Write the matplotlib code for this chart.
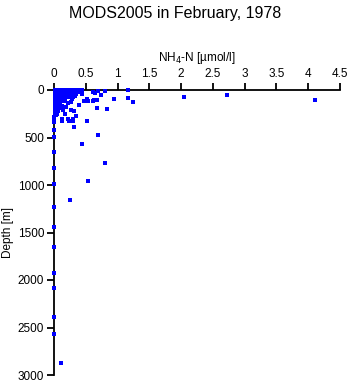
import matplotlib
matplotlib.use("Agg")
import matplotlib.pyplot as plt

# NH4-N concentration [umol/l] and sampling depth [m]
nh4 = [
    0.02, 0.05, 0.08, 0.11, 0.14, 0.17, 0.20, 0.23, 0.26, 0.29, 0.32, 0.35, 0.38, 0.41, 0.44,
    0.03, 0.06, 0.09, 0.12, 0.15, 0.18, 0.21, 0.24, 0.27, 0.30, 0.36, 0.40,
    0.01, 0.04, 0.10, 0.13, 0.16, 0.22, 0.25, 0.31, 0.34, 0.42,
    0.02, 0.05, 0.11, 0.14, 0.21, 0.27, 0.35,
    0.01, 0.07, 0.10, 0.16, 0.20, 0.23, 0.33,
    0.02, 0.05, 0.12, 0.15, 0.22, 0.30,
    0.01, 0.04, 0.07, 0.14, 0.18, 0.29,
    0.02, 0.05, 0.08, 0.16, 0.27,
    0.01, 0.04, 0.10, 0.22,
    0.02, 0.05, 0.09, 0.13, 0.19, 0.39,
    0.01, 0.04, 0.12,
    0.02, 0.06, 0.14, 0.26, 0.31,
    0.01, 0.05, 0.17, 0.03, 0.00, 0.35,
    0.12, 0.22, 0.30, 0.13, 0.23, 0.30, 0.52, 0.00, 0.00, 0.31,
    0.00, 0.69, 0.00, 0.44, 0.00, 0.81, 0.00, 0.53, 0.00, 0.25,
    0.00, 0.00, 0.00, 0.00, 0.00, 0.00, 0.00, 0.11,
    0.61, 0.69, 0.64, 0.81, 0.74, 0.67, 0.63, 0.53, 0.47, 0.52,
    0.94, 1.16, 1.16, 1.24, 0.68, 0.83, 2.04, 2.72, 4.10, 0.44, 0.61,
]
depth = [
    0, 2, 0, 5, 0, 3, 0, 2, 0, 4, 0, 2, 0, 5, 1,
    12, 15, 10, 14, 11, 16, 10, 13, 15, 12, 14, 18,
    25, 28, 26, 30, 24, 25, 23, 28, 32, 25,
    38, 42, 45, 40, 38, 50, 47,
    55, 62, 56, 65, 58, 63, 60,
    72, 76, 80, 74, 78, 76,
    90, 95, 100, 98, 94, 96,
    110, 118, 112, 115, 122,
    135, 142, 138, 140,
    160, 168, 175, 165, 178, 161,
    185, 192, 190,
    215, 225, 212, 210, 221,
    240, 250, 256, 265, 280, 273,
    308, 308, 308, 326, 322, 329, 326, 326, 340, 385,
    420, 473, 497, 571, 655, 767, 823, 960, 991, 1156,
    1233, 1447, 1653, 1927, 2084, 2389, 2568, 2873,
    21, 7, 35, 14, 56, 109, 109, 116, 116, 91,
    98, 3, 81, 126, 193, 203, 70, 56, 105, 45, 116,
]

x_ticks = [0, 0.5, 1, 1.5, 2, 2.5, 3, 3.5, 4, 4.5]
x_ticklabels = ["0", "0.5", "1", "1.5", "2", "2.5", "3", "3.5", "4", "4.5"]
y_ticks = [0, 500, 1000, 1500, 2000, 2500, 3000]

plt.rcParams["font.family"] = ["Liberation Sans", "DejaVu Sans"]

fig = plt.figure(figsize=(3.5, 3.84), dpi=100)
ax = fig.add_axes([54 / 350, 1 - 375 / 384, 286 / 350, 285 / 384])

ax.plot(nh4, depth, linestyle="none", marker="s", markersize=2.2,
        color="#0000ff", markeredgewidth=0, clip_on=False, zorder=3)

ax.set_xlim(0, 4.5)
ax.set_ylim(3000, 0)
ax.set_xticks(x_ticks)
ax.set_xticklabels(x_ticklabels)
ax.set_yticks(y_ticks)

ax.xaxis.tick_top()
ax.xaxis.set_label_position("top")
for side in ("right", "bottom"):
    ax.spines[side].set_visible(False)
for side in ("left", "top"):
    ax.spines[side].set_linewidth(1.3)
ax.tick_params(direction="out", length=5, width=1.3, labelsize=8.5, pad=2)

ax.set_xlabel("NH$_4$-N [\u00b5mol/l]", fontsize=8.5, labelpad=5)
ax.set_ylabel("Depth [m]", fontsize=8.5, labelpad=3)

fig.suptitle("MODS2005 in February, 1978", fontsize=11.5, y=0.985)

fig.savefig("out.png", dpi=100)
